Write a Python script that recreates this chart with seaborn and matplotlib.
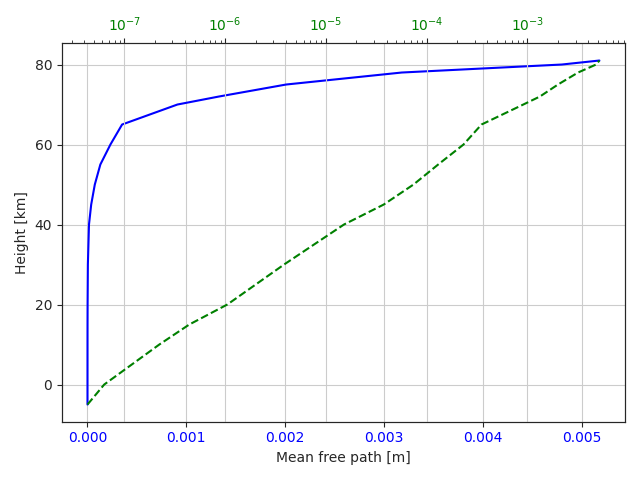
import matplotlib
matplotlib.use("Agg")
import matplotlib.pyplot as plt
import seaborn as sns

heights = [-5, 0, 10, 15, 20, 30, 40, 45, 50, 55, 60, 65, 70, 72, 75, 78, 80, 81]
mfp = [4.3e-8, 6.3e-8, 2.22e-7, 4.4e-7, 1.05e-6, 3.84e-6, 1.51e-5, 3.75e-5, 7.4e-5,
       1.3e-4, 2.32e-4, 3.5e-4, 9.1e-4, 1.33e-3, 2.01e-3, 3.18e-3, 4.8e-3, 5.18e-3]

sns.set_style("ticks")
fig, ax = plt.subplots(figsize=(6.4, 4.8), dpi=100)
sns.lineplot(x=mfp, y=heights, ax=ax, color="blue", sort=False, estimator=None)
ax.set_xlabel("Mean free path [m]")
ax.set_ylabel("Height [km]")
ax.tick_params(axis="x", labelcolor="blue")
ax.grid(True)

ax2 = ax.twiny()
sns.lineplot(x=mfp, y=heights, ax=ax2, color="green", linestyle="--", sort=False, estimator=None)
ax2.set_xscale("log")
ax2.tick_params(axis="x", labelcolor="green")
ax2.grid(True)

fig.tight_layout()
fig.savefig("out.png")
